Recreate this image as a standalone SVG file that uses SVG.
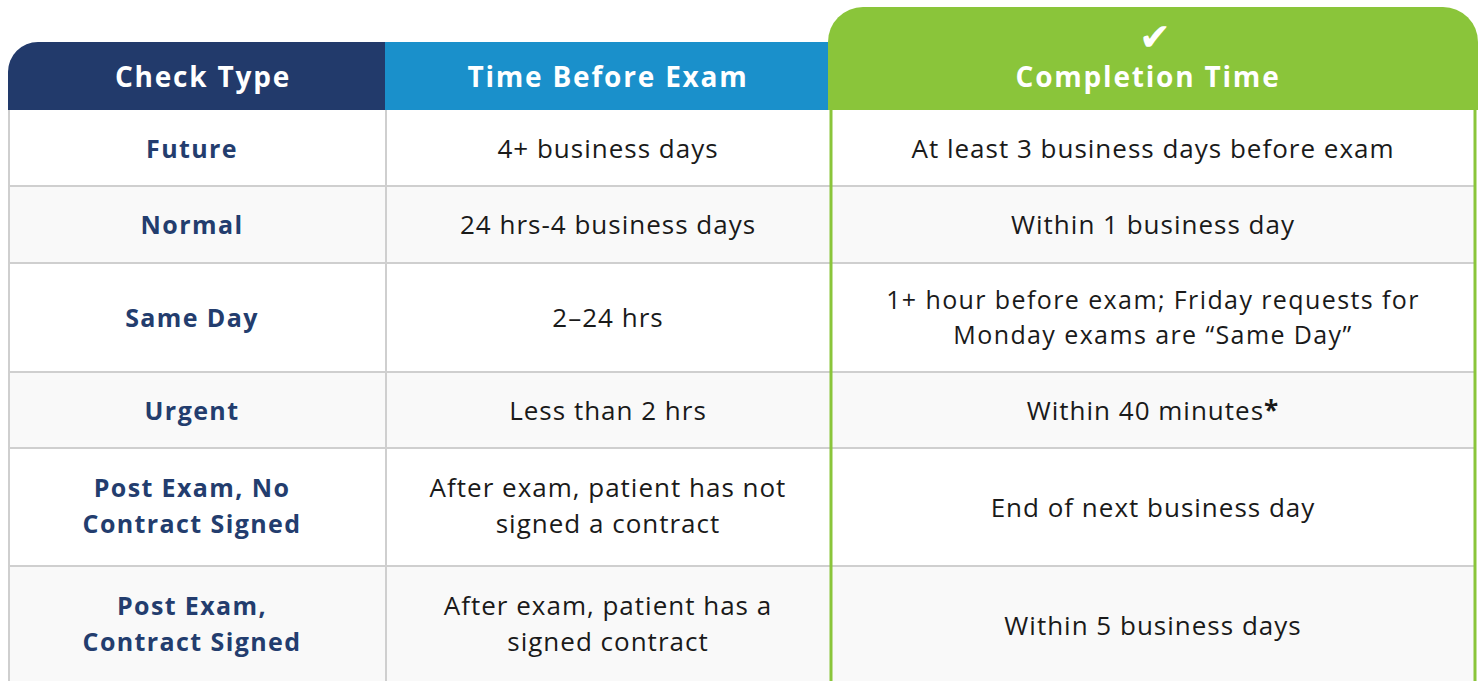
<svg xmlns="http://www.w3.org/2000/svg" width="1482" height="681" viewBox="0 0 1482 681">
<style>
.hd{font-family:"Open Sans","Liberation Sans",sans-serif;font-weight:700;font-size:28px;letter-spacing:1.8px;fill:#fff;text-anchor:middle}
.lb{font-family:"Open Sans","Liberation Sans",sans-serif;font-weight:700;font-size:25px;letter-spacing:1.4px;fill:#233d6e;text-anchor:middle}
.tx{font-family:"Open Sans","Liberation Sans",sans-serif;font-weight:400;font-size:26px;letter-spacing:1px;fill:#1a1a1a;text-anchor:middle}
.tx2{font-size:25px;letter-spacing:1.4px}
.grid{stroke:#cfcfcf;stroke-width:2;fill:none}
.alt{fill:#f9f9f9}
</style>
<rect width="1482" height="681" fill="#fff"/>
<g id="rows">
<rect x="8" y="186" width="1468" height="77" class="alt"/>
<rect x="8" y="372" width="1468" height="76" class="alt"/>
<rect x="8" y="566" width="1468" height="115" class="alt"/>
</g>
<g id="gridlines">
<line x1="9" y1="110" x2="9" y2="681" class="grid"/>
<line x1="386" y1="110" x2="386" y2="681" class="grid"/>
<line x1="8" y1="186" x2="1476" y2="186" class="grid"/>
<line x1="8" y1="263" x2="1476" y2="263" class="grid"/>
<line x1="8" y1="372" x2="1476" y2="372" class="grid"/>
<line x1="8" y1="448" x2="1476" y2="448" class="grid"/>
<line x1="8" y1="566" x2="1476" y2="566" class="grid"/>
</g>
<g id="header-check">
<path d="M8 110 V72 A30 30 0 0 1 38 42 H386 V110 Z" fill="#223a6b"/>
<text x="203" y="87" class="hd">Check Type</text>
</g>
<g id="header-time">
<rect x="385" y="42" width="445" height="68" fill="#1a90cb"/>
<text x="608" y="87" class="hd">Time Before Exam</text>
</g>
<g id="header-completion">
<path d="M828 110 V42 A35 35 0 0 1 863 7 H1443 A35 35 0 0 1 1478 42 V110 Z" fill="#8ac53a"/>
<text x="1155" y="50" style="font-family:'DejaVu Sans',sans-serif;font-size:38px;fill:#fff;text-anchor:middle">✔</text>
<text x="1148" y="87" class="hd">Completion Time</text>
<line x1="831" y1="110" x2="831" y2="681" stroke="#8ac53a" stroke-width="3"/>
<line x1="1475" y1="110" x2="1475" y2="681" stroke="#8ac53a" stroke-width="3"/>
</g>
<g id="row-future">
<text x="192" y="158" class="lb">Future</text>
<text x="608" y="158" class="tx">4+ business days</text>
<text x="1153" y="158" class="tx">At least 3 business days before exam</text>
</g>
<g id="row-normal">
<text x="192" y="234" class="lb">Normal</text>
<text x="608" y="234" class="tx">24 hrs-4 business days</text>
<text x="1153" y="234" class="tx">Within 1 business day</text>
</g>
<g id="row-sameday">
<text x="192" y="327" class="lb">Same Day</text>
<text x="608" y="327" class="tx">2–24 hrs</text>
<text x="1153" y="309" class="tx tx2">1+ hour before exam; Friday requests for</text>
<text x="1153" y="344" class="tx tx2">Monday exams are “Same Day”</text>
</g>
<g id="row-urgent">
<text x="192" y="420" class="lb">Urgent</text>
<text x="608" y="420" class="tx">Less than 2 hrs</text>
<text x="1153" y="420" class="tx">Within 40 minutes<tspan font-weight="700">*</tspan></text>
</g>
<g id="row-postexam-no">
<text x="192" y="497" class="lb">Post Exam, No</text>
<text x="192" y="533" class="lb">Contract Signed</text>
<text x="608" y="497" class="tx">After exam, patient has not</text>
<text x="608" y="533" class="tx">signed a contract</text>
<text x="1153" y="517" class="tx">End of next business day</text>
</g>
<g id="row-postexam-yes">
<text x="192" y="615" class="lb">Post Exam,</text>
<text x="192" y="651" class="lb">Contract Signed</text>
<text x="608" y="615" class="tx">After exam, patient has a</text>
<text x="608" y="651" class="tx">signed contract</text>
<text x="1153" y="635" class="tx">Within 5 business days</text>
</g>
</svg>
